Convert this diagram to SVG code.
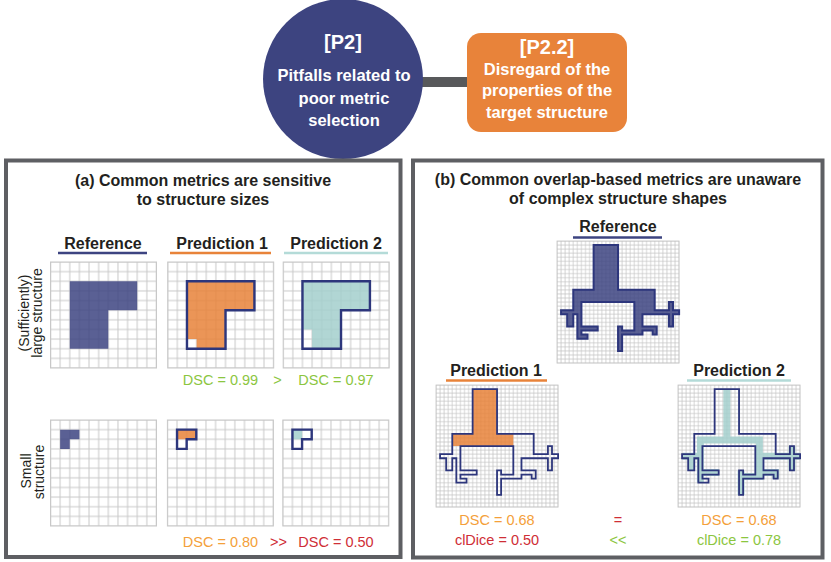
<svg xmlns="http://www.w3.org/2000/svg" xmlns:xlink="http://www.w3.org/1999/xlink" width="831" height="562" viewBox="0 0 831 562">
<style>
text{font-family:"Liberation Sans",Arial,sans-serif}
.b{font-weight:bold}
.c{text-anchor:middle}
.w{fill:#ffffff}
.h{font-size:16.5px}
.tt{font-size:16px;fill:#231f20}
.lab{font-size:16px;fill:#231f20}
.m{font-size:14.5px}
.side{font-size:14px;fill:#231f20}
.green{fill:#8cc63f}
.red{fill:#cf2e36}
.org{fill:#f4a03a}
.panel{fill:none;stroke:#5e5f63;stroke-width:4}
.navyfill{fill:#3d4481;fill-opacity:.85}
.orgfill{fill:#e8833a;fill-opacity:.85}
.tealfill{fill:#a3cfcc;fill-opacity:.85}
.out{fill:none;stroke:#2d367c;stroke-width:2.4;stroke-linejoin:miter}
.tout{fill:none;stroke:#2d367c;stroke-width:1.8}
.uline{stroke-width:2.6}
</style>
<defs>
<pattern id="p11" width="9.636" height="9.636" patternUnits="userSpaceOnUse"><path d="M0 0V9.636H9.636V0Z" fill="none" stroke="#c8c8c8" stroke-width="1"/></pattern>
<pattern id="p30" width="4.07" height="4.07" patternUnits="userSpaceOnUse"><path d="M0 0V4.07H4.07V0Z" fill="none" stroke="#c4c4c4" stroke-width="0.7"/></pattern>
<g id="grid11"><rect width="106" height="106" fill="url(#p11)" stroke="#c8c8c8" stroke-width="1"/></g>
<g id="grid30"><rect width="122.1" height="122.1" fill="url(#p30)" stroke="#c4c4c4" stroke-width="0.8"/></g>
<path id="Lbig" d="M19.27 19.27H86.73V48.18H57.82V86.73H19.27Z"/>
<path id="Lsm" d="M9.64 9.64H28.91V19.27H19.27V28.91H9.64Z"/>
<path id="treeP" transform="scale(4.07)" vector-effect="non-scaling-stroke" d="M9 1H15V12H24V17H27.5V15H28.5V17H30V18H28.5V21H27.5V18H21V21H24.5V23H23.5V22H21V23H16V27H15V21H16V22H19V15H6V21H10V22H6V23H7.5V24H5V18H4V21H2.5V18H1V17H4V12H9Z"/>
</defs>
<rect width="831" height="562" fill="#ffffff"/>

<g id="connectors">
<line x1="420" y1="82" x2="469" y2="82" stroke="#58595b" stroke-width="10"/>
</g>

<g id="node-p2">
<circle cx="343" cy="79" r="80" fill="#3d4480"/>
<text class="b c w" x="343" y="49" font-size="20">[P2]</text>
<text class="b c w h" x="344" y="81">Pitfalls related to</text>
<text class="b c w h" x="344" y="103.5">poor metric</text>
<text class="b c w h" x="344" y="126">selection</text>
</g>

<g id="node-p22">
<rect x="467" y="33" width="160" height="99" rx="14" fill="#e8833a"/>
<text class="b c w" x="547" y="54" font-size="20">[P2.2]</text>
<text class="b c w h" x="547" y="75">Disregard of the</text>
<text class="b c w h" x="547" y="96">properties of the</text>
<text class="b c w h" x="547" y="118">target structure</text>
</g>

<g id="panel-a">
<rect class="panel" x="6" y="160.5" width="394.5" height="396.5"/>
<text class="b c tt" x="203" y="186">(a) Common metrics are sensitive</text>
<text class="b c tt" x="203" y="205">to structure sizes</text>
<text class="b c lab" x="103" y="248.5">Reference</text>
<line class="uline" x1="58" y1="253" x2="147" y2="253" stroke="#3d4481"/>
<text class="b c lab" x="222" y="248.5">Prediction 1</text>
<line class="uline" x1="170" y1="253" x2="271" y2="253" stroke="#e8833a"/>
<text class="b c lab" x="336" y="248.5">Prediction 2</text>
<line class="uline" x1="284" y1="253" x2="388" y2="253" stroke="#b4dbd8"/>
<text class="c side" transform="translate(28.5,313) rotate(-90)">(Sufficiently)</text>
<text class="c side" transform="translate(41.5,313) rotate(-90)">large structure</text>
<text class="c side" transform="translate(31,471) rotate(-90)">Small</text>
<text class="c side" transform="translate(44,472) rotate(-90)">structure</text>

<g id="a-large-ref" transform="translate(50.5,262)">
<use xlink:href="#grid11"/>
<use xlink:href="#Lbig" class="navyfill"/>
</g>
<g id="a-large-pred1" transform="translate(167.7,262)">
<use xlink:href="#grid11"/>
<path class="orgfill" d="M19.27 19.27H86.73V48.18H57.82V86.73H28.91V77.09H19.27Z"/>
<use xlink:href="#Lbig" class="out"/>
</g>
<g id="a-large-pred2" transform="translate(283.2,262)">
<use xlink:href="#grid11"/>
<path class="tealfill" d="M19.27 19.27H86.73V48.18H57.82V86.73H28.91V67.45H19.27Z"/>
<use xlink:href="#Lbig" class="out"/>
</g>
<text class="c m green" x="220.5" y="385">DSC = 0.99</text>
<text class="c m green" x="277.5" y="385">&gt;</text>
<text class="c m green" x="336" y="385">DSC = 0.97</text>

<g id="a-small-ref" transform="translate(50.5,420)">
<use xlink:href="#grid11"/>
<use xlink:href="#Lsm" class="navyfill"/>
</g>
<g id="a-small-pred1" transform="translate(167.4,420)">
<use xlink:href="#grid11"/>
<rect class="orgfill" x="9.64" y="9.64" width="19.27" height="9.64"/>
<use xlink:href="#Lsm" class="out"/>
</g>
<g id="a-small-pred2" transform="translate(282.8,420)">
<use xlink:href="#grid11"/>
<rect class="tealfill" x="9.64" y="9.64" width="9.64" height="9.64"/>
<use xlink:href="#Lsm" class="out"/>
</g>
<text class="c m org" x="220.5" y="547">DSC = 0.80</text>
<text class="c m red" x="278.5" y="547">&gt;&gt;</text>
<text class="c m red" x="336" y="547">DSC = 0.50</text>
</g>

<g id="panel-b">
<rect class="panel" x="413" y="160.5" width="409.5" height="397"/>
<text class="b c tt" x="618" y="185">(b) Common overlap-based metrics are unaware</text>
<text class="b c tt" x="618" y="204">of complex structure shapes</text>
<text class="b c lab" x="618" y="232">Reference</text>
<line class="uline" x1="573" y1="237.5" x2="662" y2="237.5" stroke="#3d4481"/>

<g id="b-ref" transform="translate(557,241)">
<use xlink:href="#grid30"/>
<use xlink:href="#treeP" class="navyfill" stroke="#2d367c" stroke-width="2"/>
</g>

<text class="b c lab" x="496" y="376">Prediction 1</text>
<line class="uline" x1="446" y1="380.5" x2="547" y2="380.5" stroke="#e8833a"/>
<g id="b-pred1" transform="translate(436,385)">
<use xlink:href="#grid30"/>
<path class="orgfill" transform="scale(4.07)" d="M9 1H15V12H19V15H4V12H9Z"/>
<use xlink:href="#treeP" class="tout"/>
</g>

<text class="b c lab" x="739" y="376">Prediction 2</text>
<line class="uline" x1="687" y1="380.5" x2="791" y2="380.5" stroke="#b4dbd8"/>
<g id="b-pred2" transform="translate(678,385)">
<use xlink:href="#grid30"/>
<path transform="scale(4.07)" fill="none" stroke="#a3cfcc" stroke-opacity=".85" stroke-width="1.7" stroke-linecap="square" d="M12 1.9V13.5M5.5 13.5H20M5.5 13.5V23.1M1.9 17.5H5.5M3.25 17.5V20.2M5.5 21.5H9.2M20 13.5V22.5M20 17.5H29.1M28 15.9V20.2M20 21.5H24V22.2M15.5 22.5H20M15.5 21.9V26.2"/>
<use xlink:href="#treeP" class="tout"/>
</g>

<text class="c m org" x="497" y="525">DSC = 0.68</text>
<text class="c m red" x="497" y="545">clDice = 0.50</text>
<text class="c m red" x="618" y="525">=</text>
<text class="c m green" x="618" y="545">&lt;&lt;</text>
<text class="c m org" x="739" y="525">DSC = 0.68</text>
<text class="c m green" x="739" y="545">clDice = 0.78</text>
</g>
</svg>
